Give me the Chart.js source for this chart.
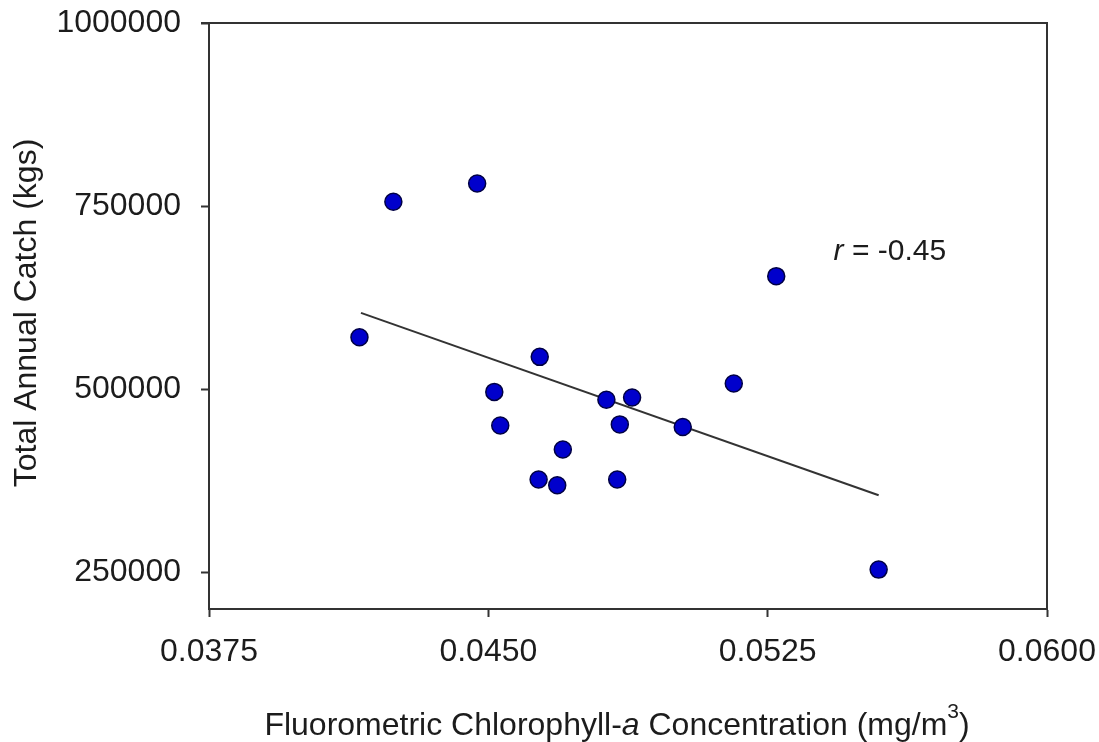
<!DOCTYPE html>
<html>
<head>
<meta charset="utf-8">
<script src="https://cdn.jsdelivr.net/npm/chart.js@4/dist/chart.umd.min.js"></script>
<style>
  html, body { margin: 0; padding: 0; background: #ffffff; }
  #c { display: block; }
</style>
</head>
<body>
<canvas id="c" width="1099" height="742"></canvas>
<script>
// ---- data ----
const chlorophyll = [0.04154, 0.04245, 0.04470, 0.04516, 0.04532, 0.04638, 0.04635, 0.04685, 0.04700,
                     0.04817, 0.04853, 0.04846, 0.04886, 0.05022, 0.05159, 0.05273, 0.05548];
const annualCatch = [571000, 756000, 781000, 496400, 450500, 544200, 376700, 368900, 417700,
                     485700, 452000, 376800, 488700, 448500, 507800, 654400, 253800];
const fitX = [0.04158, 0.05548];
const fitY = [604300, 355250];
const xTicks = [0.0375, 0.0450, 0.0525, 0.0600];
const yTicks = [250000, 500000, 750000, 1000000];
const xRange = [0.0375, 0.0600];
const yRange = [200000, 1000000];
const annotationText = ['r', ' = -0.45'];
const annotationAt = { x: 0.05427, y: 676000 };
const xTitle = ['Fluorometric Chlorophyll-', 'a', ' Concentration (mg/m', '3', ')'];
const yTitle = 'Total Annual Catch (kgs)';

const FONT = '"Liberation Sans", Arial, sans-serif';
const TEXT = '#1c1c1c';
const AXIS = '#333333';

const scatterPts = chlorophyll.map((x, i) => ({ x: x, y: annualCatch[i] }));
const fitPts = fitX.map((x, i) => ({ x: x, y: fitY[i] }));

const decor = {
  id: 'decor',
  afterDraw(chart) {
    const ctx = chart.ctx, a = chart.chartArea;
    const xs = chart.scales.x, ys = chart.scales.y;
    ctx.save();
    // frame (top and right)
    ctx.strokeStyle = AXIS;
    ctx.lineWidth = 2;
    ctx.beginPath();
    ctx.moveTo(a.left - 8, a.top);
    ctx.lineTo(a.right, a.top);
    ctx.lineTo(a.right, a.bottom);
    ctx.stroke();

    ctx.fillStyle = TEXT;
    ctx.textBaseline = 'alphabetic';
    // annotation
    let ax = xs.getPixelForValue(annotationAt.x);
    const ay = ys.getPixelForValue(annotationAt.y);
    ctx.textAlign = 'left';
    ctx.font = 'italic 30px ' + FONT;
    ctx.fillText(annotationText[0], ax, ay);
    ax += ctx.measureText(annotationText[0]).width;
    ctx.font = '30px ' + FONT;
    ctx.fillText(annotationText[1], ax, ay);

    // x title with italic "a" and superscript "3"
    const styles = ['32px ', 'italic 32px ', '32px ', '21px ', '32px '];
    const raise = [0, 0, 0, -17, 0];
    let total = 0;
    const widths = xTitle.map((t, i) => { ctx.font = styles[i] + FONT; const w = ctx.measureText(t).width; total += w; return w; });
    let tx = (a.left + a.right) / 2 - 11 - total / 2;
    const ty = 735;
    xTitle.forEach((t, i) => {
      ctx.font = styles[i] + FONT;
      ctx.fillText(t, tx, ty + raise[i]);
      tx += widths[i];
    });

    // y title
    ctx.font = '32px ' + FONT;
    ctx.translate(36, (a.top + a.bottom) / 2 - 3);
    ctx.rotate(-Math.PI / 2);
    ctx.textAlign = 'center';
    ctx.fillText(yTitle, 0, 0);
    ctx.restore();
  }
};

new Chart(document.getElementById('c'), {
  data: {
    datasets: [
      {
        type: 'scatter',
        data: scatterPts,
        backgroundColor: '#0000cc',
        borderColor: '#000044',
        borderWidth: 1.5,
        pointRadius: 8.5,
        order: 1
      },
      {
        type: 'line',
        data: fitPts,
        borderColor: '#333333',
        borderWidth: 2,
        pointRadius: 0,
        fill: false,
        order: 2
      }
    ]
  },
  options: {
    responsive: false,
    animation: false,
    layout: { padding: { left: 0, right: 52, top: 23, bottom: 0 } },
    plugins: { legend: { display: false }, tooltip: { enabled: false }, title: { display: false } },
    scales: {
      x: {
        type: 'linear',
        position: 'bottom',
        min: xRange[0], max: xRange[1],
        afterBuildTicks(s) { s.ticks = xTicks.map(v => ({ value: v })); },
        afterFit(s) { s.height = 133; s.paddingLeft = 0; s.paddingRight = 0; },
        ticks: {
          color: TEXT, padding: 16, maxRotation: 0, autoSkip: false,
          font: { family: FONT, size: 32 },
          callback: v => Number(v).toFixed(4)
        },
        grid: { display: true, drawOnChartArea: false, tickLength: 8, tickWidth: 2, color: AXIS },
        border: { display: true, color: AXIS, width: 2 }
      },
      y: {
        type: 'linear',
        position: 'left',
        min: yRange[0], max: yRange[1],
        afterBuildTicks(s) { s.ticks = yTicks.map(v => ({ value: v })); },
        afterFit(s) { s.width = 209; s.paddingTop = 0; s.paddingBottom = 0; },
        ticks: {
          color: TEXT, padding: 20, autoSkip: false,
          font: { family: FONT, size: 32 },
          callback: v => String(v)
        },
        grid: { display: true, drawOnChartArea: false, tickLength: 8, tickWidth: 2, color: AXIS },
        border: { display: true, color: AXIS, width: 2 }
      }
    }
  },
  plugins: [decor]
});
</script>
</body>
</html>
